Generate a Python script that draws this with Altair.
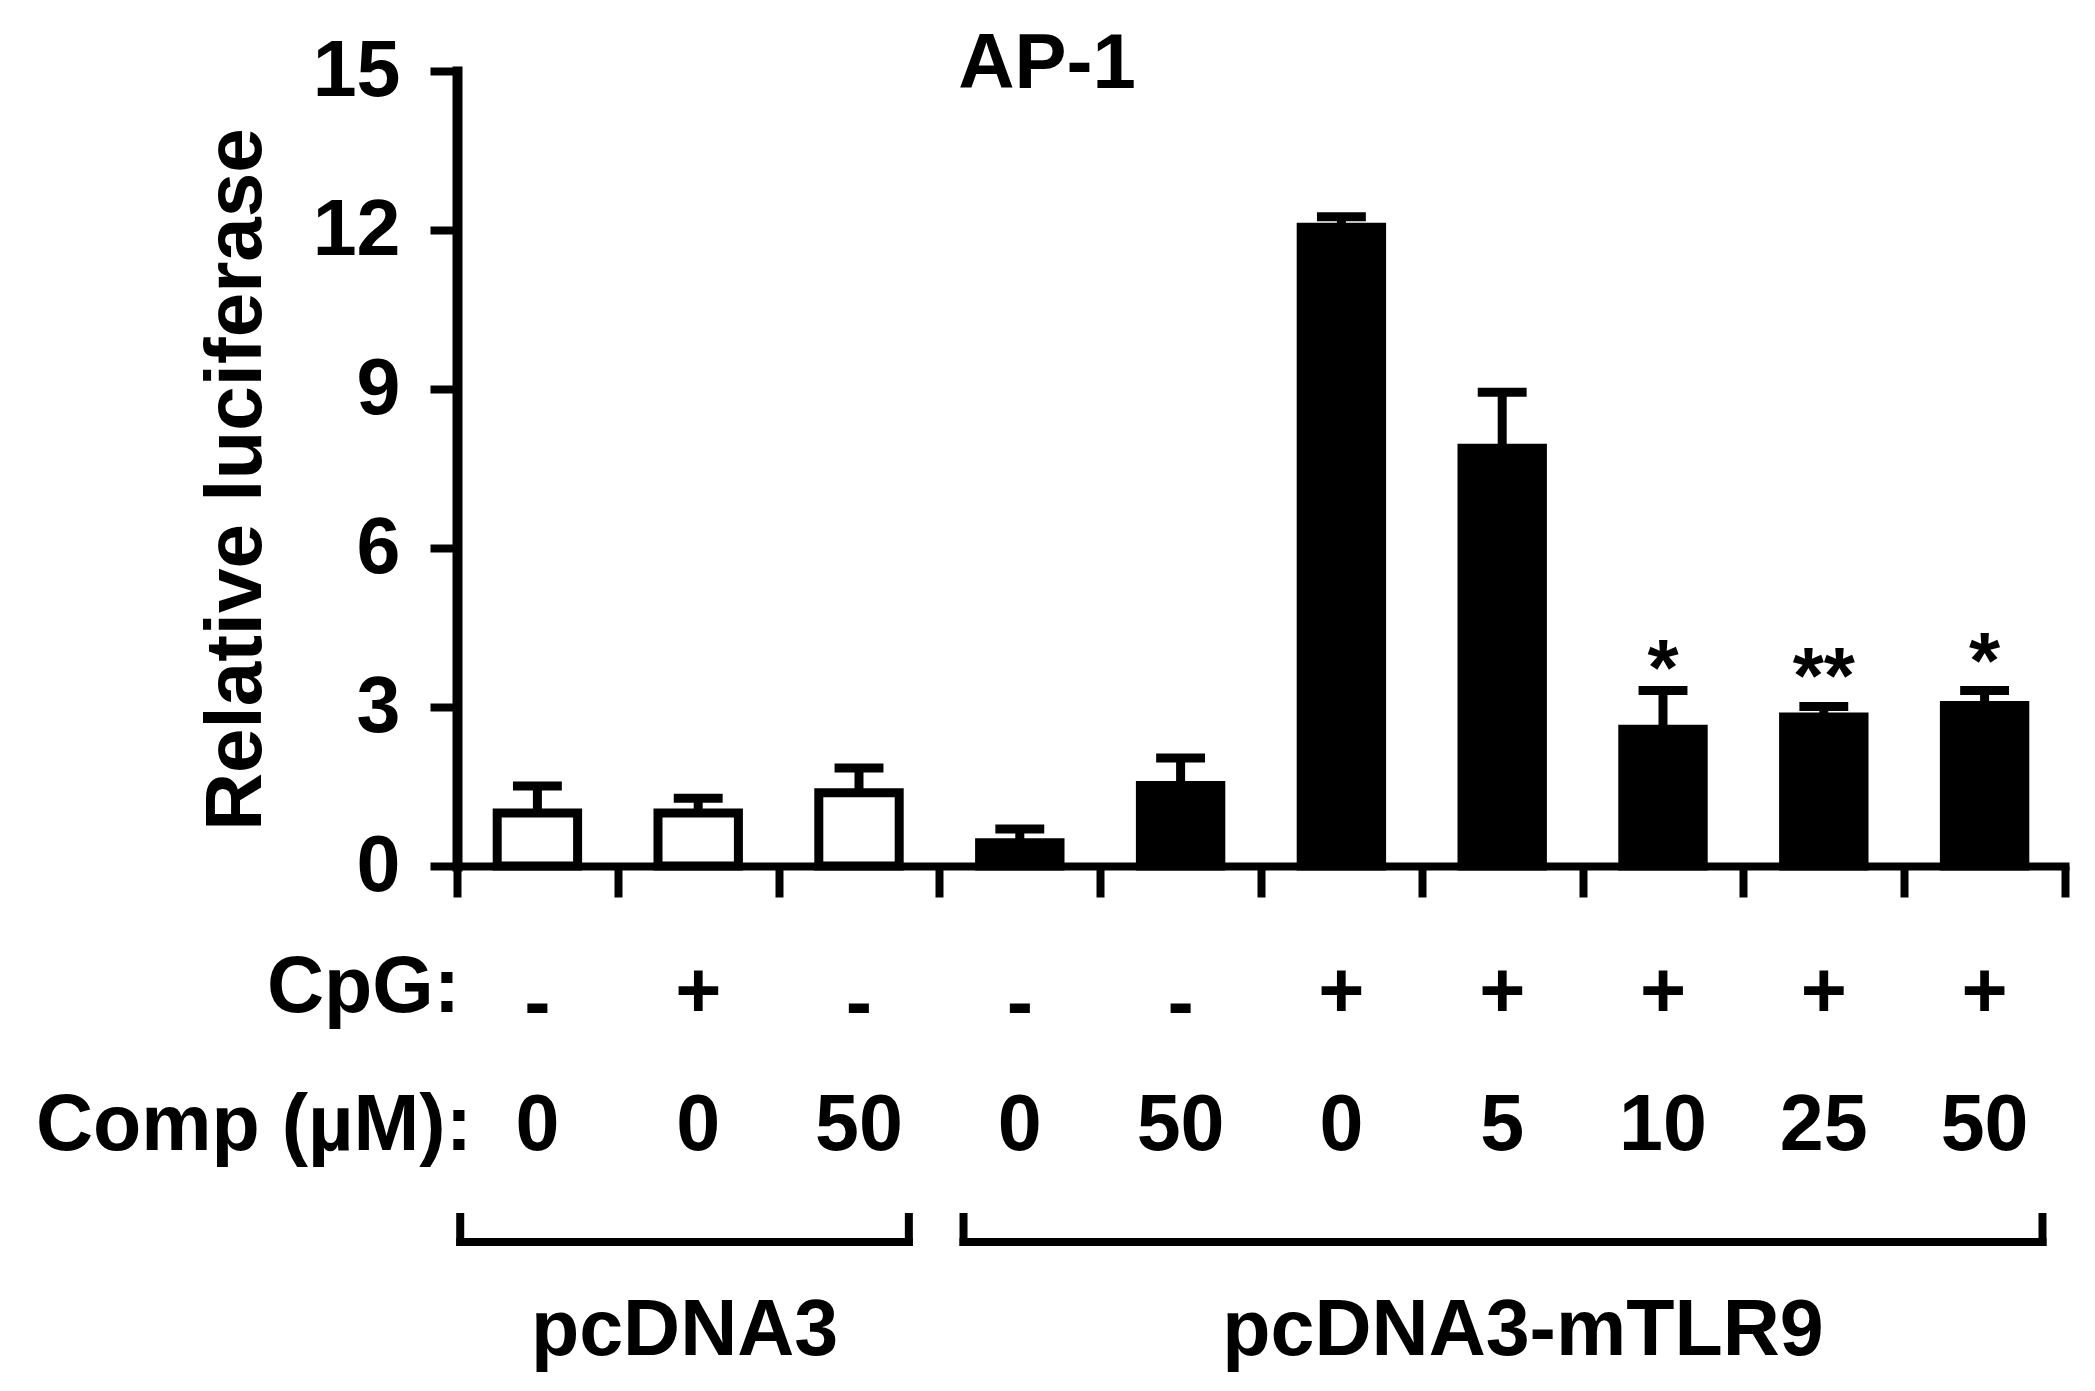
import altair as alt
import pandas as pd

# ---------------- data ----------------
cpg = ["-", "+", "-", "-", "-", "+", "+", "+", "+", "+"]
comp = ["0", "0", "50", "0", "50", "0", "5", "10", "25", "50"]
vector = ["pcDNA3"] * 3 + ["pcDNA3-mTLR9"] * 7
luciferase = [1.00, 1.00, 1.38, 0.44, 1.52, 12.05, 7.88, 2.58, 2.81, 3.03]
sem = [0.51, 0.28, 0.47, 0.26, 0.52, 0.20, 1.06, 0.73, 0.20, 0.28]

star_idx = [7, 8, 9]
star_text = ["*", "**", "*"]
star_level = [3.22, 3.08, 3.36]

groups = ["pcDNA3", "pcDNA3-mTLR9"]
group_first = [0, 3]
group_last = [2, 9]

y_ticks = [0, 3, 6, 9, 12, 15]

# ---------------- styles ----------------
FONT = "Liberation Sans"
FS = 79
BAR_HALF = 0.25
CAP_HALF = 0.152
LW = 9
bracket_inset_left = [0.02, 0.15]
bracket_inset_right = [0.19, 0.14]
label_dx = [0, 20]

df = pd.DataFrame({
    "idx": list(range(len(cpg))),
    "cpg": cpg,
    "comp": comp,
    "vector": vector,
    "mean": luciferase,
    "sem": sem,
})

stars = pd.DataFrame({"idx": star_idx, "txt": star_text, "lvl": star_level})

gdf = pd.DataFrame({
    "group": groups,
    "b0": [f + il for f, il in zip(group_first, bracket_inset_left)],
    "b1": [l + 1 - ir for l, ir in zip(group_last, bracket_inset_right)],
    "dx": label_dx,
})

xs = alt.Scale(domain=[0, 10], nice=False, zero=False)
ys = alt.Scale(domain=[0, 15], nice=False, zero=True)

x_axis = alt.Axis(values=list(range(11)), labels=False, title=None, grid=False,
                  tickSize=31, tickWidth=8, tickColor="black",
                  domainWidth=8, domainColor="black", domainCap="square")
y_axis = alt.Axis(values=y_ticks, title="Relative luciferase", grid=False,
                  tickSize=27, tickWidth=8, tickColor="black",
                  domainWidth=10, domainColor="black", domainCap="square",
                  labelFont=FONT, labelFontWeight="bold", labelFontSize=FS,
                  labelColor="black", labelPadding=30,
                  titleFont=FONT, titleFontWeight="bold", titleFontSize=80,
                  titleColor="black", titleAngle=270, titleX=-197, titleY=408,
                  titleAlign="center", titleBaseline="alphabetic")

base = alt.Chart(df).transform_calculate(
    center="datum.idx + 0.5",
    x0=f"datum.idx + 0.5 - {BAR_HALF}",
    x1=f"datum.idx + 0.5 + {BAR_HALF}",
    c0=f"datum.idx + 0.5 - {CAP_HALF}",
    c1=f"datum.idx + 0.5 + {CAP_HALF}",
    top="datum.mean + datum.sem",
    zero="0",
)

stem = base.mark_rule(color="black", strokeWidth=LW).encode(
    x=alt.X("center:Q", scale=xs, axis=x_axis),
    y=alt.Y("mean:Q", scale=ys, axis=y_axis),
    y2="top:Q",
)
cap = base.mark_rule(color="black", strokeWidth=LW, strokeCap="butt").encode(
    x=alt.X("c0:Q", scale=xs, axis=x_axis),
    x2="c1:Q",
    y=alt.Y("top:Q", scale=ys, axis=y_axis),
)
bars = base.mark_rect(stroke="black", strokeWidth=LW, strokeJoin="miter").encode(
    x=alt.X("x0:Q", scale=xs, axis=x_axis),
    x2="x1:Q",
    y=alt.Y("mean:Q", scale=ys, axis=y_axis),
    y2="zero:Q",
    fill=alt.Fill("vector:N", scale=alt.Scale(domain=groups, range=["white", "black"]),
                  legend=None),
)

star_layer = alt.Chart(stars).transform_calculate(center="datum.idx + 0.5").mark_text(
    font=FONT, fontWeight="bold", fontSize=80, baseline="alphabetic", align="center",
    color="black",
).encode(
    x=alt.X("center:Q", scale=xs, axis=x_axis),
    y=alt.Y("lvl:Q", scale=ys, axis=y_axis),
    text="txt:N",
)

txt_style = dict(font=FONT, fontWeight="bold", fontSize=FS, color="black",
                 baseline="alphabetic")

cpg_plus = base.transform_filter("datum.cpg == '+'").mark_text(align="center", **txt_style).encode(
    x=alt.X("center:Q", scale=xs, axis=x_axis), y=alt.value(946), text="cpg:N")
cpg_minus = base.transform_filter("datum.cpg == '-'").mark_text(align="center", dy=12, **txt_style).encode(
    x=alt.X("center:Q", scale=xs, axis=x_axis), y=alt.value(946), text="cpg:N")
comp_row = base.mark_text(align="center", **txt_style).encode(
    x=alt.X("center:Q", scale=xs, axis=x_axis), y=alt.value(1079), text="comp:N")

hdr = pd.DataFrame({"t": ["CpG:", "Comp (µM):"], "row": [0, 1]})
hdr_cpg = alt.Chart(hdr).transform_filter("datum.row == 0").mark_text(align="right", **txt_style).encode(
    x=alt.value(3), y=alt.value(941), text="t:N")
hdr_comp = alt.Chart(hdr).transform_filter("datum.row == 1").mark_text(align="right", **txt_style).encode(
    x=alt.value(15), y=alt.value(1079), text="t:N")

title = alt.Chart(pd.DataFrame({"t": ["AP-1"]})).mark_text(
    align="center", font=FONT, fontWeight="bold", fontSize=78, color="black",
    baseline="alphabetic").encode(x=alt.value(590), y=alt.value(17), text="t:N")

gbase = alt.Chart(gdf)
br_h = gbase.mark_rule(color="black", strokeWidth=8, strokeCap="square").encode(
    x=alt.X("b0:Q", scale=xs, axis=x_axis), x2="b1:Q", y=alt.value(1171))
br_v = gbase.transform_fold(["b0", "b1"], as_=["end", "pos"]).mark_rule(
    color="black", strokeWidth=8).encode(
    x=alt.X("pos:Q", scale=xs, axis=x_axis), y=alt.value(1142), y2=alt.value(1175))
g_lab = gbase.transform_calculate(mid="(datum.b0 + datum.b1) / 2").mark_text(
    align="center", **txt_style).encode(
    x=alt.X("mid:Q", scale=xs, axis=x_axis), y=alt.value(1284), text="group:N")
g_lab = gbase.transform_calculate(mid="(datum.b0 + datum.b1) / 2 + datum.dx / 160.8").mark_text(
    align="center", **txt_style).encode(
    x=alt.X("mid:Q", scale=xs, axis=x_axis), y=alt.value(1284), text="group:N")

chart = alt.layer(
    stem, bars, cap, star_layer, cpg_plus, cpg_minus, comp_row, hdr_cpg, hdr_comp,
    title, br_h, br_v, g_lab,
).properties(
    width=1608, height=795,
    padding={"left": 449, "top": 63, "right": 22, "bottom": 516},
    autosize=alt.AutoSizeParams(type="none"),
    background="white",
).configure_view(stroke=None)

chart.save("out.html", embed_options={"renderer": "svg", "actions": False})
